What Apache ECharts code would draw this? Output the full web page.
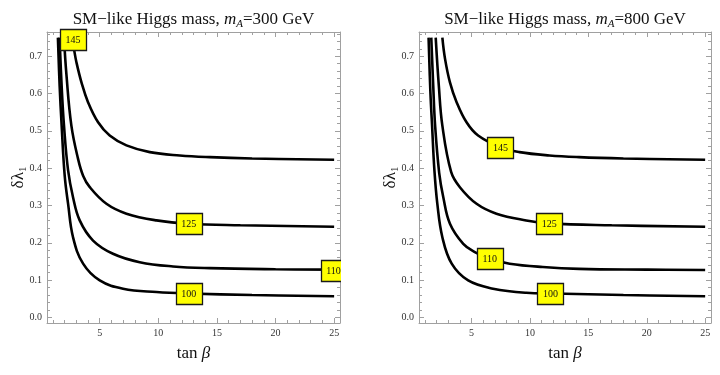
<!DOCTYPE html>
<html>
<head>
<meta charset="utf-8">
<script src="https://cdn.jsdelivr.net/npm/echarts@6/dist/echarts.min.js"></script>
<style>
  html, body { margin: 0; padding: 0; background: #fff; }
  #main { width: 720px; height: 375px; }
</style>
</head>
<body>
<div id="main"></div>
<script>
// ---- tick values ----
const xMajor = [5, 10, 15, 20, 25];
const xMinor = [1, 2, 3, 4, 5, 6, 7, 8, 9, 10, 11, 12, 13, 14, 15, 16, 17, 18, 19, 20, 21, 22, 23, 24, 25];
const yMajor = [0, 0.1, 0.2, 0.3, 0.4, 0.5, 0.6, 0.7];
const yMinor = [0, 0.02, 0.04, 0.06, 0.08, 0.1, 0.12, 0.14, 0.16, 0.18, 0.2, 0.22, 0.24, 0.26, 0.28, 0.3,
  0.32, 0.34, 0.36, 0.38, 0.4, 0.42, 0.44, 0.46, 0.48, 0.5, 0.52, 0.54, 0.56, 0.58, 0.6,
  0.62, 0.64, 0.66, 0.68, 0.7, 0.72, 0.74, 0.76];

// ---- contours, m_A = 300 GeV  [tanβ, δλ1] ----
const c100Left = [[1.43, 0.75], [1.58, 0.62], [1.75, 0.514], [2.01, 0.38], [2.30, 0.3045], [2.72, 0.215],
  [3.58, 0.144], [5.0, 0.099], [6.99, 0.077], [9.84, 0.068], [12.6, 0.064], [18, 0.06], [25, 0.0565]];
const c110Left = [[1.57, 0.75], [1.75, 0.62], [1.95, 0.514], [2.30, 0.394], [2.72, 0.322], [3.29, 0.26],
  [4.43, 0.206], [6.13, 0.1706], [8.41, 0.148], [11.25, 0.1366], [14.4, 0.132], [20, 0.129], [25, 0.128]];
const c125Left = [[1.95, 0.75], [2.16, 0.65], [2.58, 0.514], [3.15, 0.425], [3.58, 0.38], [4.15, 0.349],
  [5.57, 0.3045], [7.28, 0.278], [9.84, 0.26], [12.6, 0.251], [17, 0.247], [25, 0.243]];
const c145Left = [[2.65, 0.75], [2.81, 0.718], [3.01, 0.684], [3.44, 0.63], [4.0, 0.577], [4.86, 0.523],
  [5.85, 0.4875], [7.28, 0.461], [9.27, 0.443], [11.83, 0.434], [14.4, 0.4295], [18, 0.426], [25, 0.4225]];

// ---- contours, m_A = 800 GeV ----
const c100Right = [[1.32, 0.75], [1.48, 0.6], [1.62, 0.514], [1.82, 0.394], [2.07, 0.3045], [2.5, 0.215],
  [3.3, 0.144], [4.71, 0.099], [6.84, 0.077], [9.68, 0.066], [12, 0.064], [18, 0.06], [25, 0.0565]];
const c110Right = [[1.55, 0.75], [1.72, 0.62], [1.88, 0.514], [2.23, 0.387], [2.58, 0.322], [3.15, 0.251],
  [4.29, 0.197], [5.28, 0.175], [6.56, 0.157], [8.26, 0.144], [11.1, 0.135], [14.2, 0.13], [20, 0.128], [25, 0.127]];
const c125Right = [[1.93, 0.75], [2.2, 0.62], [2.5, 0.514], [3.25, 0.39], [4.0, 0.349], [5.43, 0.3045],
  [7.13, 0.278], [9.68, 0.26], [11.66, 0.252], [17, 0.247], [25, 0.243]];
const c145Right = [[2.5, 0.75], [2.73, 0.693], [3.15, 0.63], [3.72, 0.577], [4.57, 0.523], [5.56, 0.4875],
  [7.47, 0.456], [9.11, 0.443], [11.66, 0.434], [14.2, 0.4295], [18, 0.426], [25, 0.4225]];

// ---- contour labels ----
const labelsLeft = [[2.71, 0.745], [12.6, 0.251], [12.6, 0.064]];
const labelTextLeft = ['145', '125', '100'];
const labelsLeftEdge = [[24.95, 0.127]];
const labelTextLeftEdge = ['110'];
const labelsRight = [[7.47, 0.456], [11.66, 0.252], [6.56, 0.157], [11.75, 0.065]];
const labelTextRight = ['145', '125', '110', '100'];

const titles = ['300', '800'];

const FONT = 'Liberation Serif';
const FRAME = '#a0a0a0';

const myChart = echarts.init(document.getElementById('main'), null, { renderer: 'canvas' });

const grids = [
  { left: 47, top: 32, width: 293, height: 291 },
  { left: 419, top: 32, width: 292, height: 291 },
];

function tickAxis(extra, values, len, showLine) {
  return Object.assign({
    type: 'value',
    splitLine: { show: false },
    axisLine: { show: showLine, onZero: false, lineStyle: { color: FRAME, width: 1 } },
    axisTick: { inside: true, length: len, customValues: values, lineStyle: { color: FRAME, width: 1 } },
    axisLabel: { show: false },
  }, extra);
}

const xAxis = [];
const yAxis = [];
grids.forEach((g, gi) => {
  const xb = { gridIndex: gi, min: 0.5, max: 25.5 };
  const main = tickAxis(Object.assign({ position: 'bottom' }, xb), xMajor, 5, true);
  main.axisLabel = { show: true, customValues: xMajor, color: '#333', fontFamily: FONT, fontSize: 10, margin: 5 };
  main.name = '{n|tan }{i|β}';
  main.nameLocation = 'middle';
  main.nameGap = 22;
  main.nameTextStyle = {
    rich: {
      n: { fontFamily: FONT, fontSize: 17, color: '#111' },
      i: { fontFamily: FONT, fontSize: 17, fontStyle: 'italic', color: '#111' },
    },
  };
  xAxis.push(main);
  xAxis.push(tickAxis(Object.assign({ position: 'bottom' }, xb), xMinor, 3, false));
  xAxis.push(tickAxis(Object.assign({ position: 'top' }, xb), xMajor, 5, true));
  xAxis.push(tickAxis(Object.assign({ position: 'top' }, xb), xMinor, 3, false));

  const yb = { gridIndex: gi, min: -0.015, max: 0.765 };
  const ymain = tickAxis(Object.assign({ position: 'left' }, yb), yMajor, 5, true);
  ymain.axisLabel = {
    show: true, customValues: yMajor, color: '#333', fontFamily: FONT, fontSize: 10, margin: 5,
    formatter: (v) => v.toFixed(1),
  };
  ymain.name = '{n|δλ}{s|1}';
  ymain.nameLocation = 'middle';
  ymain.nameRotate = 90;
  ymain.nameGap = 18;
  ymain.nameMoveOverlap = false;
  ymain.nameTextStyle = {
    rich: {
      n: { fontFamily: FONT, fontSize: 17, color: '#111', lineHeight: 20 },
      s: { fontFamily: FONT, fontSize: 11, color: '#111', lineHeight: 8, verticalAlign: 'bottom' },
    },
  };
  yAxis.push(ymain);
  yAxis.push(tickAxis(Object.assign({ position: 'left' }, yb), yMinor, 3, false));
  yAxis.push(tickAxis(Object.assign({ position: 'right' }, yb), yMajor, 5, true));
  yAxis.push(tickAxis(Object.assign({ position: 'right' }, yb), yMinor, 3, false));
});

function curve(data, gi) {
  return {
    type: 'line',
    xAxisIndex: gi * 4,
    yAxisIndex: gi * 4,
    data: data,
    smooth: 0.4,
    showSymbol: false,
    silent: true,
    lineStyle: { color: '#000', width: 2.6 },
    z: 3,
  };
}

// label boxes; with maskEdge the part beyond the frame is hidden like the cut 110 box
function labelSeries(points, texts, gi, maskEdge) {
  return {
    type: 'custom',
    xAxisIndex: gi * 4,
    yAxisIndex: gi * 4,
    z: 10,
    data: points,
    renderItem: (params, api) => {
      const p = api.coord([api.value(0), api.value(1)]);
      const w = 26, h = 21;
      const x0 = Math.round(p[0] - w / 2) + 0.5, y0 = Math.round(p[1] - h / 2) + 0.5;
      const children = [
        {
          type: 'rect',
          shape: { x: x0, y: y0, width: w, height: h },
          style: { fill: '#ffff00', stroke: '#1a1a1a', lineWidth: 1.3 },
        },
        {
          type: 'text',
          style: {
            text: texts[params.dataIndex], x: p[0], y: p[1] + 1,
            align: 'center', verticalAlign: 'middle',
            font: '10px "' + FONT + '"', fill: '#111',
          },
        },
      ];
      if (maskEdge) {
        const cs = params.coordSys;
        const edge = cs.x + cs.width + 1;
        children.push({
          type: 'rect',
          shape: { x: edge, y: y0 - 2, width: 20, height: h + 4 },
          style: { fill: '#fff' },
        });
      }
      return { type: 'group', children: children };
    },
  };
}

const option = {
  backgroundColor: '#fff',
  animation: false,
  title: titles.map((m, gi) => ({
    text: '{n|SM−like Higgs mass, }{i|m}{s|A}{n|=' + m + ' GeV}',
    left: grids[gi].left + grids[gi].width / 2,
    textAlign: 'center',
    top: 10,
    padding: 0,
    textStyle: {
      fontWeight: 'normal',
      rich: {
        n: { fontFamily: FONT, fontSize: 17, fontWeight: 'normal', color: '#111', lineHeight: 20 },
        i: { fontFamily: FONT, fontSize: 17, fontWeight: 'normal', fontStyle: 'italic', color: '#111', lineHeight: 20 },
        s: { fontFamily: FONT, fontSize: 11, fontWeight: 'normal', fontStyle: 'italic', color: '#111', lineHeight: 8, verticalAlign: 'bottom' },
      },
    },
  })),
  grid: grids,
  xAxis: xAxis,
  yAxis: yAxis,
  series: [
    curve(c100Left, 0), curve(c110Left, 0), curve(c125Left, 0), curve(c145Left, 0),
    curve(c100Right, 1), curve(c110Right, 1), curve(c125Right, 1), curve(c145Right, 1),
    labelSeries(labelsLeft, labelTextLeft, 0, false),
    labelSeries(labelsLeftEdge, labelTextLeftEdge, 0, true),
    labelSeries(labelsRight, labelTextRight, 1, false),
  ],
};
myChart.setOption(option);
</script>
</body>
</html>
